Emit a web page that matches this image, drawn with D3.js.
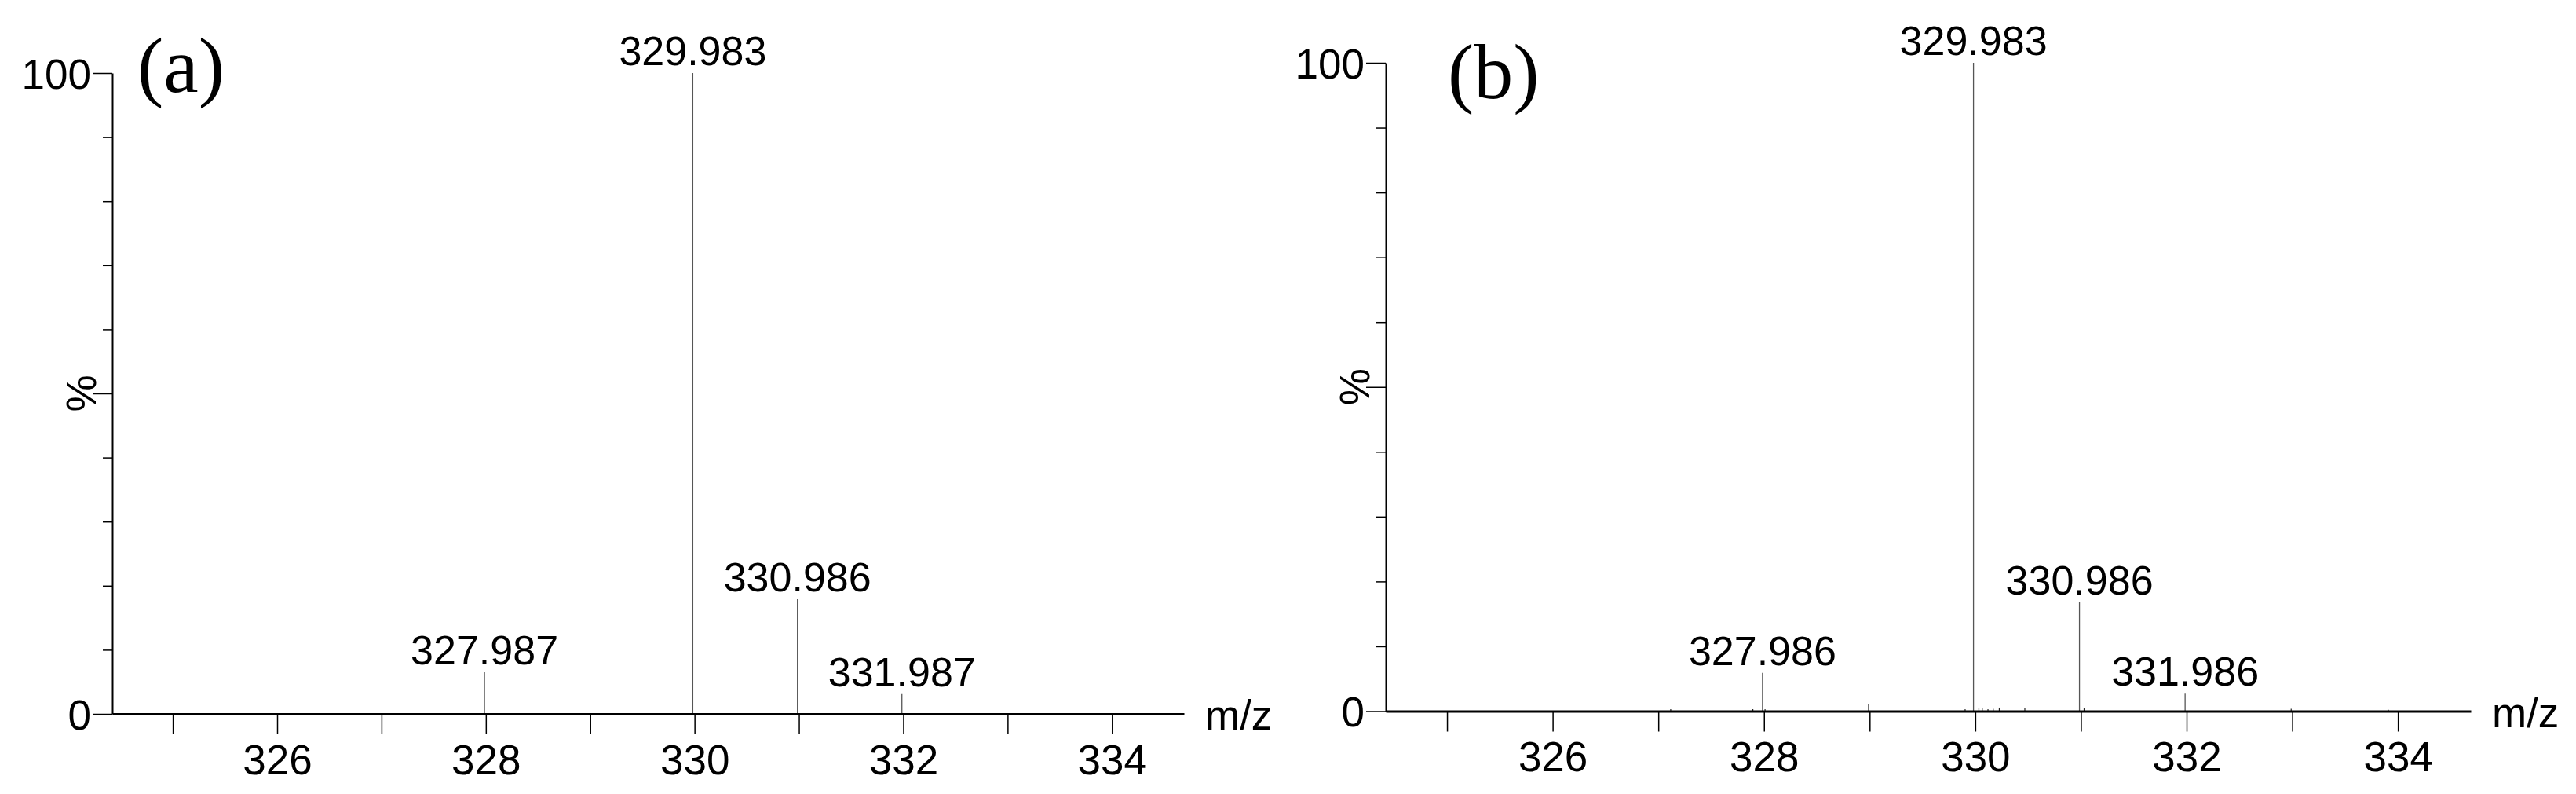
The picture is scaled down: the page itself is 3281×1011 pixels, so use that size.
<!DOCTYPE html>
<html>
<head>
<meta charset="utf-8">
<script src="https://cdn.jsdelivr.net/npm/d3@7"></script>
<style>
  body { margin: 0; background: #fff; }
  svg { display: block; }
  .tickLbl { font-family: "Liberation Sans", Arial, sans-serif; font-size: 53px; fill: #000; }
  .peakLbl { font-family: "Liberation Sans", Arial, sans-serif; font-size: 52px; fill: #000; }
  .panelLbl { font-family: "Liberation Serif", "Times New Roman", serif; font-size: 100px; fill: #000; }
</style>
</head>
<body>
<div id="chart"></div>
<script>
// m/z ticks along the bottom (every unit) and the ones that get a label
let mzTicks = [325, 326, 327, 328, 329, 330, 331, 332, 333, 334];
let mzTickLabels = [326, 328, 330, 332, 334];
let pctTicks = [0, 10, 20, 30, 40, 50, 60, 70, 80, 90, 100];
let pctTickLabels = [0, 100];

// panel (a) labelled peaks
let peaksA_mz = [327.987, 329.983, 330.986, 331.987];
let peaksA_int = [6.5, 100, 17.9, 3.1];

// panel (b) labelled peaks
let peaksB_mz = [327.986, 329.983, 330.986, 331.986];
let peaksB_int = [5.9, 100, 16.8, 2.7];

// panel (b) small unlabelled peaks near the baseline
let minorB_mz = [327.117, 327.895, 328.01, 328.99, 329.904, 330.034, 330.066, 330.12, 330.17, 330.227, 330.469, 331.03, 332.99, 333.91];
let minorB_int = [0.3, 0.3, 0.3, 1.07, 0.3, 0.55, 0.46, 0.3, 0.35, 0.55, 0.42, 0.42, 0.35, 0.22];

let mzDomain = [324.42, 334.69];

let width = 3281;
let height = 1011;

let svg = d3.select("#chart")
            .append("svg")
              .attr("width", width)
              .attr("height", height);

drawSpectrum(svg, {
  left: 143, right: 1508, bottom: 909, top: 93,
  title: "(a)", titleX: 175, titleY: 117,
  peaksMz: peaksA_mz, peaksInt: peaksA_int,
  minorMz: [], minorInt: []
});

drawSpectrum(svg, {
  left: 1765, right: 3147, bottom: 905.5, top: 80,
  title: "(b)", titleX: 1844, titleY: 125,
  peaksMz: peaksB_mz, peaksInt: peaksB_int,
  minorMz: minorB_mz, minorInt: minorB_int
});

function drawSpectrum(svg, p) {

  let xScale = d3.scaleLinear()
                  .domain(mzDomain)
                  .range([p.left, p.right]);
  let yScale = d3.scaleLinear()
                  .domain([0, 100])
                  .range([p.bottom, p.top]);

  // minor peaks first so the axis sits over their feet
  let minor = p.minorMz.map((m, i) => ({mz: m, v: p.minorInt[i]}));
  svg.append("g")
      .selectAll("line")
      .data(minor)
      .enter()
      .append("line")
        .attr("x1", d => xScale(d.mz))
        .attr("x2", d => xScale(d.mz))
        .attr("y1", yScale(0))
        .attr("y2", d => yScale(d.v))
        .attr("stroke", "#222")
        .attr("stroke-width", 1.2);

  // peak sticks
  let peaks = p.peaksMz.map((m, i) => ({mz: m, v: p.peaksInt[i]}));
  svg.append("g")
      .selectAll("line")
      .data(peaks)
      .enter()
      .append("line")
        .attr("x1", d => xScale(d.mz))
        .attr("x2", d => xScale(d.mz))
        .attr("y1", yScale(0))
        .attr("y2", d => yScale(d.v))
        .attr("stroke", "#555")
        .attr("stroke-width", 1.3);

  svg.append("g")
      .selectAll("text")
      .data(peaks)
      .enter()
      .append("text")
        .attr("class", "peakLbl")
        .attr("text-anchor", "middle")
        .attr("x", d => xScale(d.mz))
        .attr("y", d => yScale(d.v) - 10)
        .text(d => d.mz.toFixed(3));

  // x axis
  let xAxis = d3.axisBottom(xScale)
                .tickValues(mzTicks)
                .tickSize(26)
                .tickSizeOuter(0)
                .tickPadding(13)
                .tickFormat(d => mzTickLabels.includes(d) ? d : "");

  let gx = svg.append("g")
              .attr("transform", "translate(0," + p.bottom + ")")
              .call(xAxis);
  gx.select(".domain").attr("stroke", "#000").attr("stroke-width", 3);
  gx.selectAll(".tick line").attr("stroke", "#000").attr("stroke-width", 1.5);
  gx.selectAll(".tick text").attr("class", "tickLbl").attr("font-size", null).attr("font-family", null);

  // y axis
  let yAxis = d3.axisLeft(yScale)
                .tickValues(pctTicks)
                .tickSize(12)
                .tickSizeOuter(0)
                .tickFormat(d => pctTickLabels.includes(d) ? d : "");

  let gy = svg.append("g")
              .attr("transform", "translate(" + p.left + ",0)")
              .call(yAxis);
  gy.select(".domain").attr("stroke", "#000").attr("stroke-width", 2);
  gy.selectAll(".tick line")
      .attr("stroke", "#000")
      .attr("stroke-width", 1.5)
      .attr("x2", d => d % 50 == 0 ? -25 : -12);
  gy.selectAll(".tick text")
      .attr("class", "tickLbl")
      .attr("font-size", null)
      .attr("font-family", null)
      .attr("x", -27)
      .attr("dy", "0.36em");

  // % label, rotated, sitting on the 50 tick
  svg.append("text")
      .attr("class", "tickLbl")
      .attr("text-anchor", "middle")
      .attr("transform", "translate(" + (p.left - 40) + "," + yScale(50) + ") rotate(-90)")
      .attr("dy", "0.36em")
      .text("%");

  // m/z label at the end of the axis
  svg.append("text")
      .attr("class", "tickLbl")
      .attr("x", p.right + 27)
      .attr("y", p.bottom + 20)
      .text("m/z");

  // panel letter
  svg.append("text")
      .attr("class", "panelLbl")
      .attr("x", p.titleX)
      .attr("y", p.titleY)
      .text(p.title);
}
</script>
</body>
</html>
